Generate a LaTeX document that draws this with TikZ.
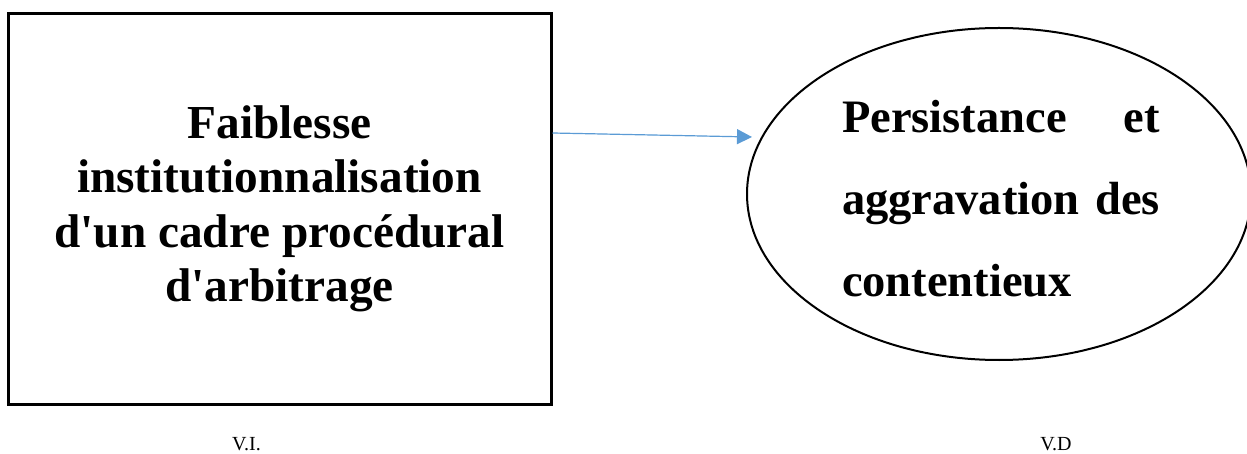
\documentclass[tikz,border=0pt]{standalone}
\usepackage{fontspec}
\setmainfont{Liberation Serif}
\usepackage{tikz}
\usetikzlibrary{arrows.meta,positioning,shapes.geometric}
\definecolor{arrowblue}{HTML}{5B9BD5}
\tikzset{%
	block/.style    = {draw, rectangle, line width=3pt, minimum width=543pt, minimum height=390pt, inner sep=0pt, align=center, font=\bfseries\fontsize{47.3}{54.5}\selectfont},
	oval/.style     = {draw, ellipse, line width=2pt, minimum width=504pt, minimum height=332pt, inner sep=0pt}, % dependent variable
	ovaltext/.style = {text width=318pt, align=left, inner sep=0pt, font=\bfseries\fontsize{46.5}{82}\selectfont},
	varname/.style  = {inner sep=0pt, font=\fontsize{20}{22}\selectfont},
	waypoint/.style = {coordinate},
	arrow/.style    = {line width=1.2pt, draw=arrowblue, fill=arrowblue, -{Triangle[length=15pt,width=15pt]}},
}

\begin{document}
\begin{tikzpicture}[x=1pt,y=-1pt,node distance=235pt]
	\useasboundingbox (0,0) rectangle (1247,454);
	\node [block] (VI) at (279.5,209) {Faiblesse\\institutionnalisation\\d\textquotesingle un cadre procédural\\d\textquotesingle arbitrage};
	\node [oval] (VD) at (999,194) {};
	\node [ovaltext] (T) at (1001,198.5) {Persistance\hfill et\\aggravation\hfill des\\contentieux};
	\node [waypoint] (tip) at (752,137) {};
	
	\draw[arrow] ([yshift=76pt]VI.east) -- (tip);
	
	\node [varname, below of=VI, xshift=-33pt] (a) {V.I.};
	\node [varname] (b) at (1056,444) {V.D};
\end{tikzpicture}
\end{document}
